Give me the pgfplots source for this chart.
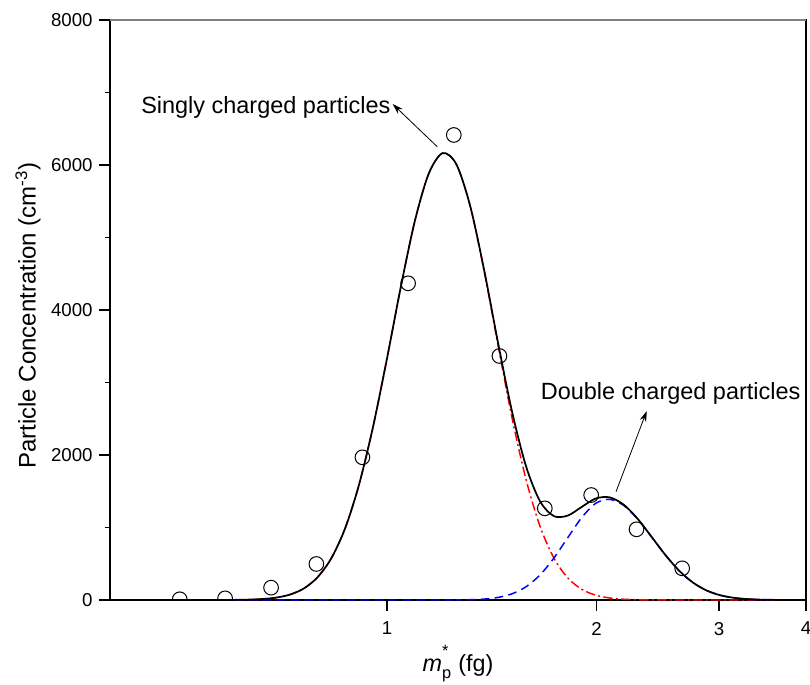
\documentclass[border=0pt]{standalone}
\usepackage{fontspec}
\setmainfont{Liberation Sans}
\usepackage{pgfplots}
\pgfplotsset{compat=1.18}
\usetikzlibrary{arrows.meta}
\begin{document}
\begin{tikzpicture}
\begin{axis}[
  scale only axis, width=522pt, height=435pt,
  xmode=log, xmin=0.4, xmax=4, ymin=0, ymax=8000,
  xtick={1,2,3,4}, xticklabels={1,2,3,4}, xminorticks=false,
  ytick={0,2000,4000,6000,8000}, yticklabels={0,2000,4000,6000,8000},
  minor ytick={1000,3000,5000,7000},
  tick align=outside, xtick pos=left, ytick pos=left,
  major tick length=8pt, minor tick length=4pt,
  every tick/.style={black, line width=0.9pt},
  axis line style={line width=1pt},
  tick label style={font=\fontsize{14}{16}\selectfont},
  xticklabel style={yshift=-5pt},
  yticklabel style={xshift=-1.5pt},
  /pgf/number format/assume math mode=true,
  clip marker paths=true,
  xlabel={\textit{m}\rlap{\raisebox{0.6ex}{\textsuperscript{*}}}\raisebox{-0.25ex}{\textsubscript{p}} (fg)},
  ylabel={Particle Concentration (cm\textsuperscript{-3})},
  xlabel style={font=\fontsize{17.5}{21}\selectfont, at={(axis description cs:0.5,-0.1241)}, anchor=base},
  ylabel style={font=\fontsize{18}{21}\selectfont, at={(axis description cs:-0.1178,0.49)}, anchor=center},
]
\coordinate (SW) at (rel axis cs:0,0);
\coordinate (NE) at (rel axis cs:1,1);
% singly charged fit
\addplot[red, line width=1.1pt, dash pattern=on 7pt off 2.5pt on 1.5pt off 2.5pt, smooth] coordinates {
(0.3981,0) (0.5012,0) (0.5754,0.6) (0.6026,1.7) (0.6310,4.9) (0.6607,12.8) (0.6918,31.7) (0.7244,72.8) (0.7586,155.6) (0.7943,310) (0.8318,575) (0.8710,992) (0.9120,1595) (0.9550,2388) (1,3329) (1.0471,4322) (1.0965,5225) (1.1482,5881) (1.2023,6164) (1.2589,6004) (1.3183,5415) (1.3804,4520) (1.4454,3493) (1.5136,2499) (1.5849,1655) (1.6596,1015) (1.7378,576) (1.8197,303) (1.9055,147) (1.9953,66) (2.0893,27.7) (2.1878,10.7) (2.2909,3.8) (2.3988,1.3) (2.5119,0.4) (2.7542,0) (4,0)
};
% doubly charged fit
\addplot[blue, line width=1.1pt, dash pattern=on 6.5pt off 4pt, smooth] coordinates {
(0.3981,0) (1.1482,0) (1.2589,1.3) (1.3183,4.4) (1.3804,13.4) (1.4454,36) (1.5136,86.5) (1.5849,183.6) (1.6596,346) (1.7378,580) (1.8197,862) (1.9055,1138) (1.9953,1334) (2.0893,1388) (2.1878,1305) (2.2909,1118) (2.3988,873) (2.5119,621) (2.6303,402) (2.7542,238) (2.8840,128) (3.0200,63) (3.1623,28) (3.3113,11.4) (3.4674,4.2) (3.6308,1.4) (3.8019,0.4) (4,0)
};
% total fit
\addplot[black, line width=1.3pt, smooth] coordinates {
(0.3981,0) (0.5012,0) (0.5754,0.6) (0.6026,1.7) (0.6310,4.9) (0.6607,12.8) (0.6918,31.7) (0.7244,72.8) (0.7586,155.6) (0.7943,310) (0.8318,575) (0.8710,992) (0.9120,1595) (0.9550,2388) (1,3329) (1.0471,4322) (1.0965,5225) (1.1482,5881) (1.2023,6164) (1.2589,6005) (1.3183,5419) (1.3804,4533) (1.4454,3529) (1.5136,2586) (1.5849,1839) (1.6596,1361) (1.7378,1156) (1.8197,1165) (1.9055,1285) (1.9953,1400) (2.0893,1416) (2.1878,1316) (2.2909,1122) (2.3988,874) (2.5119,621) (2.6303,402) (2.7542,238) (2.8840,128) (3.0200,63) (3.1623,28) (3.3113,11.4) (3.4674,4.2) (3.6308,1.4) (3.8019,0.4) (4,0)
};
% measured data
\addplot[only marks, mark=o, mark size=5.5pt, mark options={line width=0.75pt, black}] coordinates {
(0.5038,10) (0.5854,23) (0.6816,170) (0.7919,497) (0.9221,1968) (1.0725,4368) (1.2474,6414) (1.4508,3366) (1.6858,1264) (1.9654,1448) (2.2832,975) (2.6557,437)
};
\node[anchor=base west, inner sep=0pt, font=\fontsize{17.6}{21}\selectfont] at (axis cs:0.4432,6713) {Singly charged particles};
\draw[-{Stealth[length=8pt,width=5pt]}, line width=0.6pt] (axis cs:1.1810,6252) -- (axis cs:1.0189,6841);
\node[anchor=base west, inner sep=0pt, font=\fontsize{17.6}{21}\selectfont] at (axis cs:1.6623,2759) {Double charged particles};
\draw[-{Stealth[length=8pt,width=5pt]}, line width=0.6pt] (axis cs:2.1337,1494) -- (axis cs:2.3618,2607);
\end{axis}
\draw[black!50, line width=1.1pt] (SW |- NE) -- (NE);
\pgfresetboundingbox
\path ([shift={(-82.5pt,-63.75pt)}]SW) rectangle ([shift={(3pt,15pt)}]NE);
\end{tikzpicture}
\end{document}
